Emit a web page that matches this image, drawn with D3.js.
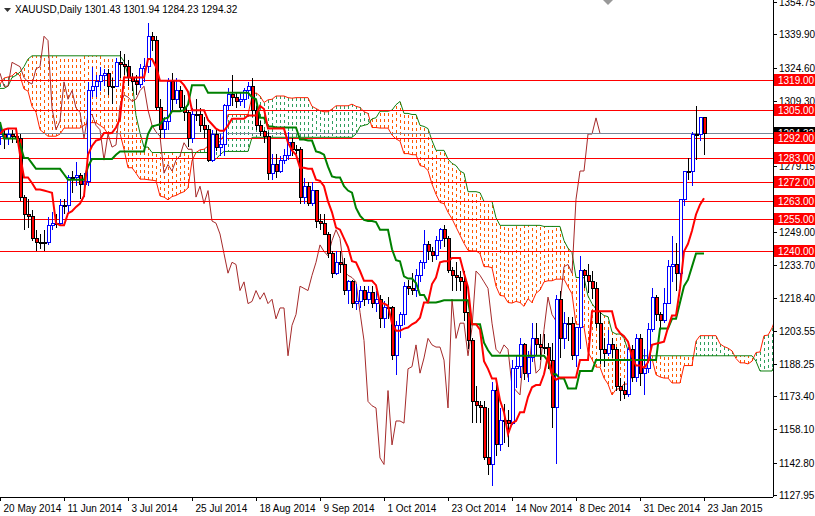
<!DOCTYPE html>
<html>
<head>
<meta charset="utf-8">
<script src="https://cdn.jsdelivr.net/npm/d3@7"></script>
<style>
  body { margin: 0; background: #fff; }
  text { font-family: "Liberation Sans", Arial, sans-serif; font-size: 10px; }
</style>
</head>
<body>
<div id="chart"></div>
<script>
// ---- data (XAUUSD daily, 20 May 2014 .. 23 Jan 2015) ----
const symbolTitle = "XAUUSD,Daily  1301.43 1301.94 1284.23 1294.32";
const firstOpen = 1293;

const closes = [
  1294,1292,1294,1293,1292,1265,1257,1256,1246,
  1244,1244,1244,1252,1253,1253,1261,1261,1274,1274,1275,1271,1272,1314,1316,1318,1321,1322,1316,1316,1327,
  1326,1325,1320,1318,1317,1324,1325,1339,1337,1306,1296,1300,1318,1310,1314,1306,1304,1292,1303,1303,1298,1296,1282,
  1294,1288,1289,1307,1312,1311,1309,1310,1314,1316,1305,1298,1295,1293,1276,1280,1277,1282,1284,1290,1287,
  1287,1265,1270,1262,1268,1254,1253,1248,1239,1230,1235,1234,1222,1226,1216,1217,1222,1218,1221,1216,1218,1209,
  1214,1214,1192,1206,1211,1224,1223,1222,1229,1235,1243,1240,1238,1245,1250,1246,1231,1229,1228,1226,1212,1199,1171,
  1169,1168,1145,1142,1176,1151,1162,1162,1161,1186,1187,1197,1184,1191,1200,1197,1196,1196,1190,1168,
  1218,1200,1207,1207,1192,1205,1231,1229,1226,1223,1207,1195,1193,1197,1195,1178,1176,1174,1195,1182,1200,1184,
  1186,1204,1219,1211,1208,1216,1233,1234,1230,1264,1277,1277,1294,1294,1301.43,1294.32
];
const highs = [
  1298,1296,1297,1296,1295,1294,1266,1264,1259,
  1250,1248,1250,1256,1258,1257,1264,1264,1275,1277,1281,1276,1276,1318,1325,1321,1325,1324,1324,1320,1329,
  1332,1331,1328,1322,1321,1326,1329,1345,1341,1339,1310,1302,1320,1322,1320,1316,1312,1305,1306,1310,1306,1302,1298,
  1296,1297,1294,1308,1315,1321,1313,1313,1315,1318,1320,1307,1300,1296,1295,1285,1285,1284,1287,1295,1292,
  1289,1288,1274,1272,1272,1268,1257,1257,1249,1240,1240,1240,1237,1227,1227,1225,1224,1224,1224,1224,1222,1220,
  1217,1219,1215,1208,1212,1226,1227,1230,1232,1236,1250,1245,1242,1247,1251,1252,1247,1233,1235,1231,1231,1211,1200,
  1178,1171,1171,1168,1180,1180,1168,1170,1167,1190,1192,1200,1198,1194,1207,1207,1202,1202,1198,1198,
  1220,1222,1212,1210,1210,1205,1238,1232,1234,1231,1226,1212,1200,1204,1200,1196,1182,1180,1196,1197,1202,1202,
  1195,1207,1223,1220,1212,1223,1236,1247,1244,1262,1277,1283,1295,1307,1302,1301.94
];
const lows = [
  1289,1287,1289,1290,1290,1263,1250,1251,1245,
  1240,1241,1240,1243,1250,1251,1252,1257,1258,1267,1270,1264,1265,1270,1311,1311,1314,1316,1312,1308,1316,
  1320,1321,1316,1314,1312,1315,1318,1322,1332,1305,1292,1292,1296,1305,1308,1304,1300,1288,1290,1300,1295,1292,1281,
  1281,1286,1284,1284,1305,1307,1306,1307,1306,1310,1302,1296,1293,1290,1273,1273,1274,1276,1280,1282,1284,
  1285,1262,1262,1261,1261,1251,1250,1248,1237,1228,1229,1230,1220,1216,1214,1213,1214,1215,1216,1214,1212,1205,
  1205,1209,1190,1183,1200,1206,1220,1220,1219,1226,1232,1236,1235,1236,1241,1242,1230,1222,1222,1222,1208,1195,1161,
  1161,1161,1144,1137,1132,1146,1148,1152,1150,1160,1177,1182,1181,1180,1189,1192,1190,1193,1186,1159,
  1142,1191,1195,1199,1190,1187,1195,1223,1221,1218,1205,1188,1187,1192,1191,1176,1171,1172,1173,1180,1180,1178,
  1174,1184,1203,1208,1204,1207,1216,1226,1222,1226,1261,1273,1270,1282,1291,1284.23
];
// bars before the visible window (30 Jan .. 19 May 2014), only used by the Ichimoku lines
const preHighs = [
  1268,1263,
  1262,1261,1260,1268,1272,1278,1290,1294,1301,1318,1330,1324,1322,1324,1332,1339,1336,1340,1342,1334,
  1354,1349,1342,1353,1352,1341,1345,1351,1373,1385,1392,1388,1360,1349,1334,1336,1331,1330,1308,1298,1293,
  1291,1298,1293,1306,1298,1310,1312,1322,1320,1331,1312,1306,1298,1290,1290,1289,1305,1303,1300,1298,1286,
  1285,1302,1303,1316,1311,1290,1292,1300,1297,1304,1306,1298,1296
];
const preLows = [
  1240,1238,
  1240,1248,1250,1253,1258,1265,1270,1282,1289,1296,1315,1310,1309,1310,1315,1322,1328,1326,1328,1320,
  1326,1330,1329,1330,1330,1333,1334,1338,1350,1365,1372,1355,1339,1320,1323,1316,1304,1302,1288,1285,1277,
  1277,1279,1281,1283,1291,1296,1300,1304,1301,1318,1297,1295,1290,1283,1268,1278,1282,1290,1286,1286,1272,
  1277,1282,1300,1300,1283,1282,1286,1287,1292,1292,1291,1290,1290
];

const levels = [1319, 1305, 1292, 1283, 1272, 1263, 1255, 1240];
const priceTicks = [1354.75,1339.90,1324.60,1309.30,1294.00,1279.15,1263.85,1249.00,1233.70,1218.40,1203.55,1188.25,1173.40,1158.10,1142.80,1127.95];
const lastPrice = 1294.32;
const holidays = ["2014-12-25", "2015-01-01"];

// ---- layout ----
const W = 815, H = 516;
const plotW = 773, plotH = 497;
const step = 4;

const svg = d3.select("#chart").append("svg")
    .attr("width", W).attr("height", H)
    .style("display", "block");

// dates: weekdays counted back from 23 Jan 2015, skipping holidays
const N = closes.length;
const dates = [];
let d = new Date(Date.UTC(2015, 0, 23));
while (dates.length < N) {
    let iso = d.toISOString().slice(0, 10);
    let wd = d.getUTCDay();
    if (wd !== 0 && wd !== 6 && !holidays.includes(iso)) dates.unshift(new Date(d));
    d = new Date(d.getTime() - 86400000);
}

const opens = closes.map((c, i) => i === 0 ? firstOpen : closes[i - 1]);

const x = d3.scaleLinear().domain([0, N - 1]).range([0, (N - 1) * step]);
const y = d3.scaleLinear().domain([1127.95, 1354.75]).range([495, 2]);

// ---- ichimoku ----
const P = preHighs.length;
const allH = preHighs.concat(highs), allL = preLows.concat(lows);
function mid(k, n) {
    if (k - n + 1 < 0) return null;
    return (d3.max(allH.slice(k - n + 1, k + 1)) + d3.min(allL.slice(k - n + 1, k + 1))) / 2;
}
const tenkan = [], kijun = [];
for (let i = 0; i < N; i++) {
    tenkan.push(mid(P + i, 9));
    kijun.push(mid(P + i, 26));
}
const spanA = [], spanB = [];
for (let i = 0; i < N + 26; i++) {
    let k = P + i - 26;
    let t = mid(k, 9), kj = mid(k, 26), b = mid(k, 52);
    spanA.push(t !== null && kj !== null ? (t + kj) / 2 : null);
    spanB.push(b);
}

const plot = svg.append("g");
svg.append("clipPath").attr("id", "clip")
    .append("rect").attr("width", plotW).attr("height", plotH);
plot.attr("clip-path", "url(#clip)");

// cloud hatch
const cloud = spanA.map((a, i) => ({i, a, b: spanB[i]})).filter(c => c.a !== null && c.b !== null);
plot.append("g").selectAll("line").data(cloud).enter().append("line")
    .attr("x1", c => x(c.i)).attr("x2", c => x(c.i))
    .attr("y1", c => y(c.a)).attr("y2", c => y(c.b))
    .attr("stroke", c => c.b > c.a ? "#ff5a00" : "#2e9e5e")
    .attr("stroke-width", 1)
    .attr("stroke-dasharray", "3,3")
    .attr("shape-rendering", "crispEdges");

const line = d3.line().defined(v => v[1] !== null).x(v => x(v[0])).y(v => y(v[1]));

plot.append("path").attr("d", line(spanA.map((v, i) => [i, v])))
    .attr("fill", "none").attr("stroke", "#ff2000").attr("stroke-width", 1);
plot.append("path").attr("d", line(spanB.map((v, i) => [i, v])))
    .attr("fill", "none").attr("stroke", "#108010").attr("stroke-width", 1);

// chikou
plot.append("path").attr("d", line(closes.map((c, i) => [i - 26, c])))
    .attr("fill", "none").attr("stroke", "#a52a2a").attr("stroke-width", 1);

// horizontal levels
plot.selectAll(".lvl").data(levels).enter().append("line")
    .attr("x1", 0).attr("x2", plotW)
    .attr("y1", v => Math.round(y(v)) + 0.5).attr("y2", v => Math.round(y(v)) + 0.5)
    .attr("stroke", "#ff0000");
plot.append("line").attr("x1", 0).attr("x2", plotW)
    .attr("y1", Math.round(y(lastPrice)) + 0.5).attr("y2", Math.round(y(lastPrice)) + 0.5)
    .attr("stroke", "#778899");

// candles
const bars = plot.append("g").selectAll("g").data(closes.map((c, i) => i)).enter().append("g")
    .attr("shape-rendering", "crispEdges");
bars.append("line")
    .attr("x1", i => x(i) + 0.5).attr("x2", i => x(i) + 0.5)
    .attr("y1", i => y(Math.max(highs[i], opens[i], closes[i])))
    .attr("y2", i => y(Math.min(lows[i], opens[i], closes[i])))
    .attr("stroke", i => closes[i] > opens[i] ? "#0000ff" : "#000");
bars.append("rect")
    .attr("x", i => x(i) - 1)
    .attr("y", i => y(Math.max(opens[i], closes[i])))
    .attr("width", 3)
    .attr("height", i => Math.max(1, Math.abs(y(opens[i]) - y(closes[i]))))
    .attr("fill", i => closes[i] > opens[i] ? "#fff" : "#ff0000")
    .attr("stroke", i => closes[i] > opens[i] ? "#0000ff" : "#000");

// tenkan / kijun
plot.append("path").attr("d", line(kijun.map((v, i) => [i, v])))
    .attr("fill", "none").attr("stroke", "#008000").attr("stroke-width", 2);
plot.append("path").attr("d", line(tenkan.map((v, i) => [i, v])))
    .attr("fill", "none").attr("stroke", "#ff0000").attr("stroke-width", 2);

// title
svg.append("path").attr("d", "M4,8 L11,8 L7.5,12 Z").attr("fill", "#333");
svg.append("text").attr("x", 15).attr("y", 13).attr("fill", "#000").text(symbolTitle);
svg.append("path").attr("d", "M603,0 L613,0 L608,5 Z").attr("fill", "#999");

// right price axis
svg.append("line").attr("x1", plotW + 0.5).attr("x2", plotW + 0.5).attr("y1", 0).attr("y2", plotH)
    .attr("stroke", "#000");
svg.append("line").attr("x1", 0).attr("x2", plotW).attr("y1", plotH + 0.5).attr("y2", plotH + 0.5)
    .attr("stroke", "#000");
const pt = svg.append("g").selectAll("g").data(priceTicks).enter().append("g")
    .attr("transform", v => `translate(${plotW},${Math.round(y(v)) + 0.5})`);
pt.append("line").attr("x1", 0).attr("x2", 4).attr("stroke", "#000");
pt.append("text").attr("x", 6).attr("dy", "0.35em").text(v => v.toFixed(2));

// last price box then level boxes on top
const lp = svg.append("g").attr("transform", `translate(${plotW + 1},${Math.round(y(lastPrice))})`);
lp.append("rect").attr("x", 0).attr("y", -6).attr("width", 41).attr("height", 12).attr("fill", "#000");
lp.append("text").attr("x", 4).attr("dy", "0.35em").attr("fill", "#fff").text(lastPrice.toFixed(2));

const lb = svg.append("g").selectAll("g").data(levels).enter().append("g")
    .attr("transform", v => `translate(${plotW + 1},${Math.round(y(v))})`);
lb.append("rect").attr("x", 0).attr("y", -6).attr("width", 41).attr("height", 12).attr("fill", "#ff0000");
lb.append("text").attr("x", 4).attr("dy", "0.35em").attr("fill", "#fff").text(v => v.toFixed(2));

// date axis: a label every 16 bars, counted from the last bar
const fmt = d3.utcFormat("%-d %b %Y");
const dateIdx = d3.range(N - 1, -1, -16);
const dt = svg.append("g").selectAll("g").data(dateIdx).enter().append("g")
    .attr("transform", i => `translate(${x(i) + 0.5},${plotH})`);
dt.append("line").attr("y1", 0).attr("y2", 4).attr("stroke", "#000");
dt.append("text").attr("x", 3).attr("y", 15).text(i => fmt(dates[i]));
</script>
</body>
</html>
